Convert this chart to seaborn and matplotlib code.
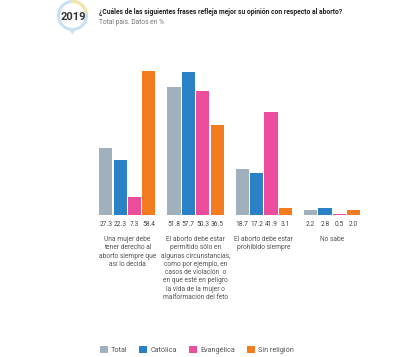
import pandas as pd
import numpy as np
import matplotlib
matplotlib.use("Agg")
import matplotlib.pyplot as plt
from matplotlib.patches import Wedge, Polygon, Patch
import seaborn as sns

sns.set_theme(style="white")
plt.rcParams['font.family'] = ['Roboto', 'DejaVu Sans']

# datos (2019, total pais, %)
frases = [
    "Una mujer debe\ntener derecho al\naborto siempre que\nasí lo decida",
    "El aborto debe estar\npermitido sólo en\nalgunas circunstancias,\ncomo por ejemplo, en\ncasos de violación  o\nen que esté en peligro\nla vida de la mujer o\nmalformación del feto",
    "El aborto debe estar\nprohibido siempre",
    "No sabe",
]
grupos = ["Total", "Católica", "Evangélica", "Sin religión"]
total = [27.3, 51.8, 18.7, 2.2]
catolica = [22.3, 57.7, 17.2, 2.8]
evangelica = [7.3, 50.3, 41.9, 0.5]
sin_religion = [58.4, 36.5, 3.1, 2.0]
colores = ["#a0b0bd", "#2a81c6", "#ec4d9d", "#f47c20"]

filas = []
for g, vals in zip(grupos, [total, catolica, evangelica, sin_religion]):
    for f, v in zip(frases, vals):
        filas.append({"frase": f, "grupo": g, "valor": v})
df = pd.DataFrame(filas)

fig = plt.figure(figsize=(4.14, 3.57), dpi=100)
ax = fig.add_axes([0.225, 0.397, 0.66, 0.416])

sns.barplot(data=df, x="frase", y="valor", hue="grupo", order=frases,
            hue_order=grupos, palette=colores, saturation=1, width=0.84,
            gap=0.08, edgecolor="none", linewidth=0, legend=False, ax=ax)

ax.set_xlim(-0.5, 3.5)
ax.set_ylim(0, 60)
sns.despine(ax=ax, left=True, bottom=True)
ax.set_yticks([])
ax.set_xlabel("")
ax.set_ylabel("")
ax.tick_params(axis="x", length=0, pad=15, labelsize=4.8, labelcolor="#555555")
for t in ax.get_xticklabels():
    t.set_verticalalignment("top")
    t.set_linespacing(1.25)

# valores debajo de cada barra
trans = matplotlib.transforms.blended_transform_factory(ax.transData, ax.transAxes)
for cont in ax.containers:
    for p, v in zip(cont.patches, cont.datavalues):
        ax.text(p.get_x() + p.get_width() / 2, -0.065, f"{v:.1f}",
                transform=trans, ha="center", va="center",
                fontsize=4.8, color="#444444")

# leyenda
handles = [Patch(facecolor=c, edgecolor="none") for c in colores]
fig.legend(handles, grupos, loc="center left", bbox_to_anchor=(0.225, 0.02),
           ncol=4, frameon=False, fontsize=5.2, handlelength=1.1, handleheight=1.1,
           handletextpad=0.5, columnspacing=1.6, labelcolor="#555555")

# encabezado
fig.text(99 / 414, 1 - 12 / 357, "¿Cuáles de las siguientes frases refleja mejor su opinión con respecto al aborto?",
         fontsize=4.9, fontweight="bold", color="#222222", va="center")
fig.text(99 / 414, 1 - 22.5 / 357, "Total país. Datos en %",
         fontsize=4.8, color="#777777", va="center")

# insignia del año (eje y invertido: angulos negativos = arriba)
bx = fig.add_axes([0, 0, 1, 1], zorder=-1)
bx.set_xlim(0, 414)
bx.set_ylim(357, 0)
bx.axis("off")
bx.add_patch(Wedge((72.5, 15.5), 15.5, 0, 360, width=3, facecolor="#c7e0f2", edgecolor="none"))
bx.add_patch(Wedge((72.5, 15.5), 15.5, -95, -10, width=3, facecolor="#f8e6a6", edgecolor="none"))
bx.add_patch(Polygon([[69.5, 30], [75.5, 30], [72.5, 34.5]], facecolor="#c7e0f2", edgecolor="none"))
bx.text(73.5, 17.5, "2019", ha="center", va="center", fontsize=8, fontweight="bold",
        color="#333333")

fig.savefig("out.png", dpi=100)
